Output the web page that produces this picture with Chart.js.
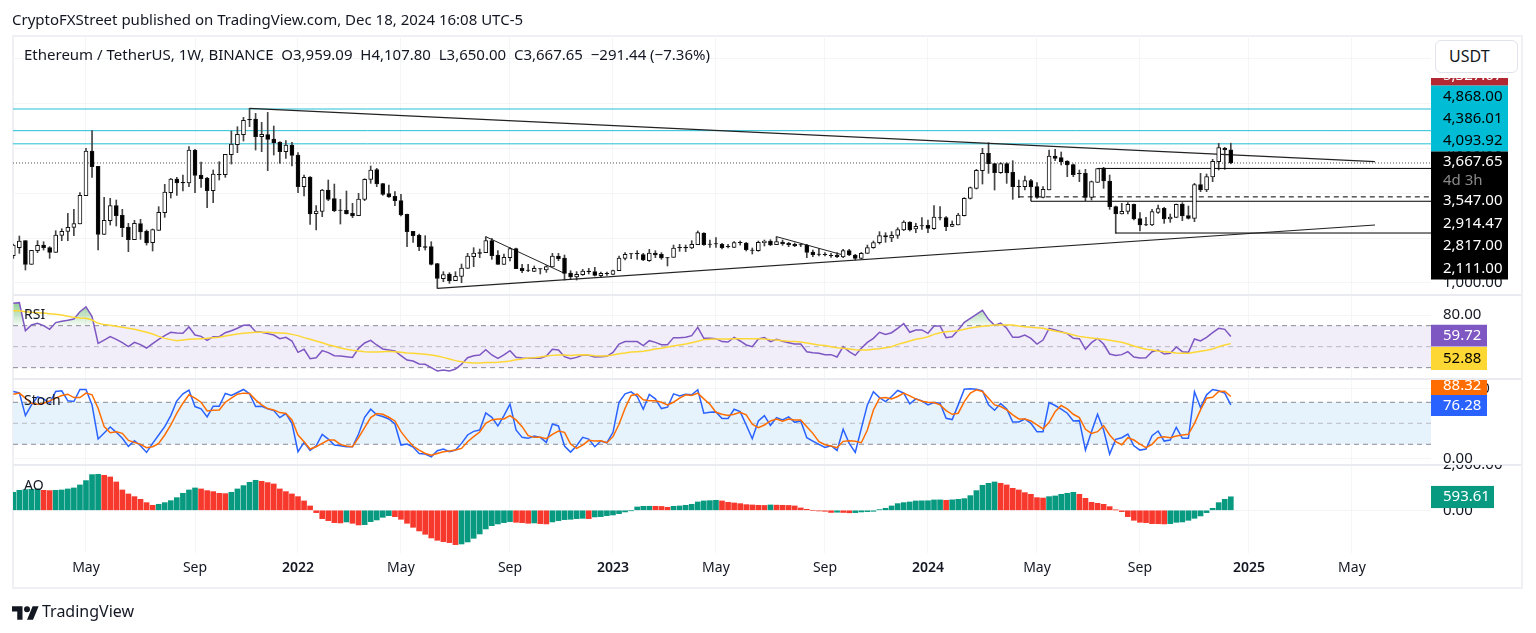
<!DOCTYPE html>
<html>
<head>
<meta charset="utf-8">
<title>ETHUSDT 1W</title>
<script src="https://cdn.jsdelivr.net/npm/chart.js@4/dist/chart.umd.js"></script>
<style>
  html, body { margin: 0; padding: 0; background: #fff; overflow: hidden; }
  body { width: 1536px; height: 633px; position: relative; font-family: "Noto Sans", sans-serif; color: #131722; }
  canvas { position: absolute; left: 0; top: 0; }
  .txt { position: absolute; white-space: pre; font-size: 15px; line-height: 18px; }
  .leg { font-size: 14px; }
  #frame { position: absolute; left: 12px; top: 35px; width: 1507px; height: 550px; border: 2px solid #eef0f4; }
  #cover { position: absolute; left: 1431px; top: 37px; width: 88px; height: 41px; background: #fff; }
  #unit { position: absolute; left: 1435px; top: 40px; width: 81px; height: 31px; border: 1px solid #e0e3eb; border-radius: 6px; background: #fff;
          font-size: 16px; line-height: 31px; text-indent: 13px; }
  #logo { position: absolute; left: 12px; top: 601px; }
</style>
</head>
<body>
<div id="frame"></div>
<canvas id="chart" width="1536" height="633"></canvas>
<div class="txt" style="left:12px;top:10px">CryptoFXStreet published on TradingView.com, Dec 18, 2024 16:08 UTC-5</div>
<div class="txt" style="left:24px;top:45px">Ethereum / TetherUS, 1W, BINANCE  O3,959.09  H4,107.80  L3,650.00  C3,667.65  −291.44 (−7.36%)</div>
<div class="txt leg" style="left:24px;top:305px">RSI</div>
<div class="txt leg" style="left:24px;top:391px">Stoch</div>
<div class="txt leg" style="left:24px;top:476px">AO</div>
<div id="cover"></div>
<div id="unit">USDT</div>
<svg id="logo" width="27" height="21" viewBox="0 0 36 28"><path fill="#131722" d="M14 25H7V14H0V7h14v18zM28 25h-8l7.5-18h8L28 25z"/><circle fill="#131722" cx="20" cy="11" r="4"/></svg>
<div class="txt" style="left:42px;top:601px;font-size:16px;line-height:20px">TradingView</div>

<script>
const opens = [1607,1785,1941,1415,1718,1844,1785,1681,2059,2148,2237,2311,2941,3934,3593,2081,2385,2719,2504,2244,1963,2319,2148,1896,2170,2563,3008,3312,3237,3223,3956,3400,3334,3052,3415,3408,3852,4075,4297,4638,4645,4253,4297,4201,4134,3919,4067,3845,3141,3356,2541,2593,3067,2874,2622,2615,2548,2496,2860,3304,3519,3208,2986,2926,2830,2526,2148,2059,1807,1807,1429,1096,1200,1051,1148,1326,1585,1674,1674,1941,1622,1415,1563,1763,1326,1289,1259,1318,1289,1355,1600,1555,1222,1133,1185,1266,1252,1163,1215,1192,1274,1548,1652,1659,1629,1496,1666,1637,1563,1570,1792,1792,1778,1852,2111,1867,1874,1859,1815,1792,1904,1889,1733,1718,1896,1933,1852,1911,1881,1859,1852,1844,1689,1644,1637,1615,1622,1578,1718,1622,1548,1659,1785,1896,2052,2000,2059,2178,2356,2200,2274,2282,2207,2452,2452,2259,2289,2496,2882,3104,3497,3882,3652,3452,3652,3460,3148,3141,3274,3141,2904,3067,3823,3786,3712,3630,3438,3438,2904,3237,3556,3267,2697,2533,2593,2748,2430,2296,2289,2571,2659,2422,2459,2756,2496,2437,3186,3067,3356,3697,3993,3959];
const highs = [1867,2044,1941,1726,1941,1918,1807,2163,2207,2548,2637,3008,3993,4386,3593,2904,2882,2845,2637,2326,2393,2415,2178,2200,2697,3193,3326,3349,3400,4030,3971,3689,3349,3512,3697,3860,4379,4475,4682,4882,4771,4571,4793,4490,4141,4164,4127,3897,3400,3363,2719,3082,3289,3200,2860,3045,2771,2993,3319,3601,3549,3215,3178,3030,2971,2533,2148,2089,2052,1918,1437,1252,1229,1252,1422,1659,1785,1755,2030,1992,1718,1644,1785,1778,1415,1415,1378,1318,1385,1659,1659,1622,1274,1252,1303,1326,1348,1244,1244,1289,1600,1674,1652,1718,1659,1748,1718,1674,1570,1844,1859,1844,1941,2156,2118,1955,2007,1881,1859,1918,1933,1904,1778,1933,1955,1963,2030,1955,1904,1889,1867,1859,1733,1763,1674,1659,1674,1748,1748,1637,1681,1844,1933,2141,2118,2141,2230,2385,2363,2326,2452,2400,2719,2697,2474,2378,2548,2897,3134,3526,3993,4119,3660,3675,3675,3719,3289,3378,3304,3230,3141,3956,3971,3912,3719,3645,3512,3526,3267,3549,3571,3400,2711,2771,2785,2756,2563,2459,2637,2734,2682,2533,2756,2785,2711,3215,3438,3423,3749,4104,4015,4108];
const lows = [1548,1659,1289,1415,1674,1733,1548,1681,1941,1941,2052,2311,2941,3349,1733,2081,2289,2267,2030,1696,1963,1970,1844,1711,2170,2459,2889,2948,3045,3141,3008,3126,2674,2785,3289,3349,3645,3897,4156,4475,3956,3919,3497,3845,3660,3771,3601,3008,2934,2304,2178,2474,2830,2585,2311,2533,2452,2496,2830,3215,3141,2948,2904,2719,2489,1807,1904,1718,1733,1400,881,1029,992,1051,1007,1326,1363,1563,1674,1526,1415,1415,1489,1318,1229,1252,1252,1200,1237,1355,1496,1066,1088,1066,1170,1200,1155,1126,1170,1185,1274,1511,1540,1526,1496,1481,1563,1526,1378,1570,1704,1696,1763,1852,1837,1792,1792,1755,1778,1785,1844,1711,1644,1704,1822,1829,1852,1837,1807,1807,1807,1563,1585,1600,1600,1570,1563,1563,1607,1511,1540,1659,1770,1867,1904,1918,1992,2163,2156,2118,2193,2118,2193,2400,2163,2252,2289,2489,2867,3089,3200,3438,3067,3438,3215,2860,2897,3067,2822,2882,2889,3067,3719,3623,3363,3363,3252,2830,2845,3237,3104,2637,2104,2533,2533,2400,2156,2274,2274,2548,2326,2348,2452,2385,2422,2363,3030,3030,3252,3512,3526,3650];
const closes = [1844,1933,1415,1726,1837,1785,1681,2067,2148,2237,2319,2948,3934,3586,2081,2393,2719,2496,2230,1963,2326,2133,1889,2185,2571,3023,3312,3223,3223,3956,3393,3319,3052,3423,3408,3860,4090,4304,4616,4623,4253,4304,4193,4112,3919,4067,3838,3141,3349,2533,2600,3067,2860,2608,2615,2533,2489,2867,3304,3512,3200,2971,2911,2830,2511,2141,2052,1807,1792,1415,1103,1185,1044,1148,1333,1600,1666,1659,1941,1607,1415,1570,1763,1318,1274,1281,1326,1311,1363,1600,1540,1215,1133,1192,1266,1252,1170,1215,1207,1274,1555,1637,1644,1652,1511,1666,1622,1555,1555,1778,1785,1778,1859,2118,1852,1859,1867,1785,1807,1896,1896,1741,1726,1904,1933,1844,1918,1874,1852,1822,1844,1681,1629,1637,1629,1607,1585,1718,1622,1548,1659,1785,1896,2052,2022,2059,2185,2356,2178,2259,2267,2215,2467,2445,2252,2304,2511,2882,3119,3504,3882,3652,3452,3652,3445,3141,3141,3274,3134,2904,3082,3823,3771,3689,3623,3408,3430,2904,3252,3541,3267,2697,2533,2593,2748,2422,2289,2289,2585,2652,2422,2467,2748,2489,2437,3186,3067,3363,3704,4008,3956,3668];

const rsiValues = [91.3,91.9,65.2,70.6,72.2,70.0,66.5,72.9,74.1,75.1,76.3,83.3,87.8,78.6,53.2,56.3,59.5,57.0,53.8,50.0,54.1,51.9,48.7,52.9,57.0,60.5,63.7,63.0,62.7,68.7,61.1,59.8,56.0,59.5,59.5,63.3,65.2,67.5,70.3,70.6,64.3,63.7,62.4,61.1,57.6,58.9,55.4,44.6,47.5,38.6,39.5,46.2,44.3,41.4,41.1,40.5,39.8,48.4,53.5,56.0,51.6,47.8,46.8,45.9,41.4,37.3,36.3,33.5,33.2,30.0,26.8,27.8,26.8,28.7,33.2,39.5,41.4,42.1,47.1,42.1,38.9,42.1,46.2,39.8,39.2,38.9,38.9,38.9,41.1,47.5,46.8,40.5,38.6,39.8,42.1,41.7,40.2,40.5,40.8,44.6,52.5,54.8,54.8,54.8,51.0,55.7,54.1,51.9,51.9,58.6,58.6,58.9,60.5,68.4,57.9,57.9,57.6,54.8,54.4,58.9,55.4,51.6,50.0,57.3,58.6,54.8,57.0,55.1,53.8,52.5,52.5,45.2,44.3,43.7,42.4,42.4,40.2,50.0,45.2,41.7,48.4,54.1,57.9,63.7,61.7,63.3,67.5,71.9,63.7,65.9,65.9,62.7,69.7,69.7,58.6,59.5,65.9,73.2,77.0,80.8,84.6,76.0,70.3,72.5,67.5,58.9,58.9,61.1,57.9,52.5,56.3,67.5,65.9,64.3,62.4,57.9,57.6,47.5,53.8,57.9,52.5,43.0,41.7,42.4,45.2,40.2,39.2,39.5,45.2,46.8,43.0,43.7,49.7,45.2,44.6,57.3,55.4,58.9,63.3,67.5,66.5,59.72];
const rsiMa = [84.3,84.3,83.3,82.7,82.4,82.1,81.4,80.8,80.2,78.9,77.9,77.3,77.0,75.4,72.2,71.0,70.3,69.4,68.4,67.5,66.5,65.2,63.7,62.1,59.8,57.9,56.7,55.7,56.3,57.0,57.3,57.6,57.9,58.6,58.9,60.2,61.1,62.1,62.7,63.3,63.7,63.7,63.7,63.3,63.0,62.7,61.7,60.5,58.6,57.0,55.4,53.8,51.9,50.3,48.7,47.5,46.5,45.9,45.2,44.9,44.9,45.2,45.6,45.2,44.6,44.0,43.7,43.3,42.7,42.1,41.1,39.8,38.3,36.7,35.7,34.8,34.4,34.4,34.8,34.8,35.1,35.7,36.3,37.6,38.3,39.2,39.5,40.2,41.1,41.7,42.1,42.1,41.7,42.1,42.4,42.1,41.4,41.1,41.1,42.1,43.3,44.0,44.9,45.2,45.6,46.5,47.8,48.4,49.7,50.6,51.6,52.5,53.8,55.1,56.7,57.0,57.3,57.3,57.3,57.6,57.6,57.6,57.6,57.6,57.3,56.7,56.3,55.7,55.1,54.8,54.4,53.5,52.5,51.6,51.0,50.0,49.0,48.4,47.8,47.1,46.8,46.8,47.5,48.1,49.0,50.0,52.2,53.8,55.4,57.0,57.9,59.5,61.7,63.3,64.3,64.6,65.2,66.5,67.8,68.7,69.4,70.0,70.6,70.6,70.6,70.6,69.7,69.0,68.4,68.1,67.5,66.2,64.9,63.7,62.7,61.1,59.8,58.9,58.3,57.6,57.0,56.0,55.1,54.1,52.5,50.6,49.0,47.5,46.8,45.9,45.2,44.6,44.0,43.7,43.7,44.6,45.6,46.5,47.8,50.0,51.6,52.88];

const stochK = [95.5,93.5,61.0,76.3,87.8,84.9,78.7,95.5,96.4,82.1,81.1,98.3,98.3,76.3,27.5,36.1,44.7,37.1,28.5,17.0,25.1,17.9,8.4,21.3,33.3,45.2,61.0,82.1,92.1,97.4,73.9,70.6,59.1,74.4,74.4,92.6,89.7,94.0,98.3,92.1,73.9,74.4,70.6,68.2,58.1,63.9,50.0,9.3,22.7,11.2,17.9,34.2,27.5,18.9,17.9,16.5,16.5,34.7,58.6,70.1,62.0,59.6,56.2,49.0,18.9,20.3,16.0,6.9,6.0,2.2,10.8,13.2,9.3,11.7,21.3,33.3,38.5,40.4,64.8,58.6,46.2,61.0,77.3,40.4,29.9,28.5,31.8,29.9,22.7,49.0,46.2,17.5,8.8,17.9,29.9,27.5,16.5,24.6,22.2,37.1,80.1,92.1,95.0,88.3,70.1,91.2,84.9,71.1,73.0,92.1,89.2,91.6,90.7,97.9,64.4,65.8,66.3,56.7,56.7,70.1,66.7,47.6,28.0,53.3,61.0,47.1,58.1,54.8,59.1,51.4,53.3,29.4,24.6,19.9,15.5,17.9,11.2,41.4,21.3,8.4,42.8,76.3,95.0,86.8,81.1,88.3,96.9,93.1,77.8,84.9,82.1,76.3,79.7,78.7,57.2,55.3,76.3,98.8,99.3,98.8,96.4,76.3,68.7,78.2,70.6,51.9,51.9,56.2,50.0,38.0,38.0,79.7,75.4,70.1,64.4,53.3,53.8,11.7,38.0,62.9,40.4,6.0,27.0,29.4,34.7,17.9,11.7,13.2,32.3,39.0,24.6,26.1,44.3,28.5,28.5,95.0,72.5,90.7,98.3,96.4,93.1,76.28];
const stochD = [91.6,93.1,85.9,78.7,77.3,78.7,82.1,85.9,89.7,91.6,86.8,86.8,93.1,90.7,71.5,45.2,36.6,38.0,35.6,25.6,22.7,19.9,15.1,16.5,21.3,33.3,47.6,64.4,78.7,90.7,85.9,80.1,67.7,68.7,69.1,80.1,85.9,91.6,93.1,92.6,83.5,76.3,71.1,69.1,65.3,63.9,54.8,33.3,23.7,13.2,16.5,21.3,26.1,26.1,19.9,17.5,16.5,29.4,43.8,58.1,63.9,62.9,58.6,53.3,38.0,27.0,17.5,11.7,6.9,4.5,6.9,9.3,10.3,11.7,14.1,23.7,30.9,37.6,50.0,54.8,56.2,56.2,61.0,54.8,45.2,32.3,29.9,29.9,28.0,34.2,39.0,37.1,20.3,14.1,18.9,25.6,24.6,25.1,22.2,30.9,48.6,71.5,89.7,91.6,83.5,82.1,82.1,80.1,76.3,80.1,85.9,90.7,89.7,93.1,84.9,77.3,65.8,62.9,61.0,62.9,65.8,62.0,48.6,43.8,47.6,53.3,56.2,52.9,56.2,54.8,54.8,45.2,35.6,23.7,19.4,17.5,15.1,24.2,25.1,24.2,22.2,40.4,69.1,85.9,86.8,84.9,88.3,93.1,89.2,84.9,81.6,80.1,79.7,76.3,68.2,62.9,64.4,81.1,93.1,97.9,95.5,85.9,76.3,73.9,69.1,62.0,56.2,56.2,53.3,47.6,41.9,51.4,66.7,75.4,70.6,62.9,58.1,41.4,35.6,38.0,46.7,33.3,23.7,19.4,29.4,26.1,20.3,15.1,19.9,29.4,30.9,29.4,31.8,33.3,34.2,50.0,69.1,85.9,87.3,95.5,95.9,88.32];

const aoValues = [792,880,910,924,939,880,866,880,895,939,983,1115,1306,1570,1584,1540,1467,1247,895,719,601,484,337,220,264,337,425,557,748,895,983,939,866,822,748,733,792,939,1086,1232,1320,1276,1218,1159,939,822,719,601,411,191,-103,-367,-455,-543,-557,-513,-572,-645,-631,-499,-425,-308,-235,-279,-396,-572,-748,-909,-1056,-1218,-1320,-1379,-1423,-1511,-1482,-1394,-1232,-1042,-822,-675,-601,-543,-499,-528,-543,-572,-557,-587,-601,-513,-455,-411,-396,-367,-352,-367,-293,-279,-235,-205,-147,-73,-15,147,176,178,176,169,132,176,191,220,264,367,411,425,440,411,352,323,293,249,235,220,213,235,227,220,213,191,103,44,0,-29,-44,-95,-85,-95,-110,-103,-73,-59,-44,30,88,191,293,337,367,411,416,420,455,458,440,460,484,513,645,866,1100,1188,1247,1188,1115,968,895,777,704,557,540,601,631,704,748,792,704,528,352,308,264,161,15,-59,-279,-440,-528,-543,-587,-590,-601,-587,-528,-513,-440,-352,-249,-103,88,337,484,594];

const timeTicks = [12,30,47,64,82,99,116,134,151,169,186,204,221];
const timeLabels = ['May','Sep','2022','May','Sep','2023','May','Sep','2024','May','Sep','2025','May'];

const cyanLevels = [4868, 4386.01, 4093.92];
const lastClose = 3667.65;
const lineTop = [[39,4882],[224.8,3696]];
const lineBottom = [[70,881],[224.8,2289]];
const lineSwing1 = [[78,2030],[91,1214]];
const lineSwing2 = [[126,2030],[137,1622]];
const hLevels = [[179,3547],[168,2817],[182,2111]];
const dashLevel = [166,2914.47];

const xMin = -0.05, xMax = 234.05, lastX = xMax;
const pts = arr => arr.map((y, x) => ({x, y}));
const seg = a => a.map(p => ({x: p[0], y: p[1]}));
const fmt = v => v.toLocaleString('en-US', {minimumFractionDigits: 2, maximumFractionDigits: 2});

function lineDs(data, axis, color, width, dash, order) {
  return {type: 'line', data, yAxisID: axis, borderColor: color, borderWidth: width, borderDash: dash || [],
          pointRadius: 0, tension: 0, fill: false, order: order == null ? 1 : order};
}

const canvas = document.getElementById('chart');
const rsiGlow = canvas.getContext('2d').createLinearGradient(0, 305, 0, 326);
rsiGlow.addColorStop(0, 'rgba(76,175,80,0.55)');
rsiGlow.addColorStop(1, 'rgba(76,175,80,0.05)');

const datasets = [
  // candle bodies on top, wicks behind them
  {type: 'bar', yAxisID: 'price', grouped: false, order: 0, barThickness: 4, borderWidth: 1, borderSkipped: false, borderColor: '#111',
   backgroundColor: opens.map((o, i) => closes[i] >= o ? '#fff' : '#000'),
   data: opens.map((o, i) => ({x: i, y: [o, closes[i]]}))},
  {type: 'bar', yAxisID: 'price', grouped: false, order: 2, barThickness: 1, borderWidth: 0, backgroundColor: '#444',
   data: highs.map((h, i) => ({x: i, y: [lows[i], h]}))},
  ...cyanLevels.map(v => lineDs([{x: xMin, y: v}, {x: lastX, y: v}], 'price', '#22bfd6', 1, null, 3)),
  lineDs([{x: xMin, y: lastClose}, {x: lastX, y: lastClose}], 'price', '#555', 1, [1, 2], 3),
  lineDs(seg(lineTop), 'price', '#222', 1.2, null, 1),
  lineDs(seg(lineBottom), 'price', '#222', 1.2, null, 1),
  lineDs(seg(lineSwing1), 'price', '#222', 1, null, 1),
  lineDs(seg(lineSwing2), 'price', '#222', 1, null, 1),
  ...hLevels.map(l => lineDs([{x: l[0], y: l[1]}, {x: lastX, y: l[1]}], 'price', '#000', 1, null, 1)),
  lineDs([{x: dashLevel[0], y: dashLevel[1]}, {x: lastX, y: dashLevel[1]}], 'price', '#000', 1, [5, 4], 1),

  Object.assign(lineDs(pts(rsiValues), 'rsi', '#7e57c2', 1.5), {fill: {target: {value: 70}, above: rsiGlow, below: 'rgba(0,0,0,0)'}}),
  lineDs(pts(rsiMa), 'rsi', '#fdd835', 1.5, null, 0),
  lineDs(pts(stochK), 'stoch', '#2962ff', 1.5),
  lineDs(pts(stochD), 'stoch', '#ff6d00', 1.5, null, 0),

  {type: 'bar', yAxisID: 'ao', grouped: false, barThickness: 5, borderWidth: 0, order: 1,
   backgroundColor: aoValues.map((v, i) => (i === 0 || v >= aoValues[i - 1]) ? '#089981' : '#f7392d'),
   data: pts(aoValues)}
];

const paneGrid = {color: '#f4f5f7', drawTicks: false};
const sideTicks = {padding: 12, color: '#131722', font: {family: 'Noto Sans', size: 15}, callback: v => fmt(v)};
function fixedTicks(list) { return s => { s.ticks = list.map(value => ({value})); }; }
const fitSide = s => { s.width = 90; };

// price tags of the right-hand axis, top to bottom
const tagRows = [
  ['5,327.67', '#b22833', '#fff', 66, 85.6],
  ['4,868.00', '#00bcd4', '#000', 85.6, 108],
  ['4,386.01', '#00bcd4', '#000', 108, 130],
  ['4,093.92', '#00bcd4', '#000', 130, 151.5],
  ['3,667.65', '#000', '#fff', 151.5, 172],
  ['4d 3h', '#000', '#8a8a8a', 172, 190],
  ['3,547.00', '#000', '#fff', 190, 212],
  ['2,914.47', '#000', '#fff', 212, 235],
  ['2,817.00', '#000', '#fff', 235, 257],
  ['2,111.00', '#000', '#fff', 257, 279.5],
];
const paneTags = [
  ['59.72', '#7e57c2', '#fff', 324.5, 346.7, 56],
  ['52.88', '#fdd835', '#000', 346.7, 370, 56],
  ['88.32', '#ff6d00', '#fff', 377, 395, 56, 380],
  ['76.28', '#2962ff', '#fff', 395, 416, 56],
  ['593.61', '#089981', '#fff', 485.7, 508.3, 63],
];

const panelsPlugin = {
  id: 'panels',
  beforeDatasetsDraw(chart) {
    const {ctx, chartArea: a, scales} = chart;
    const band = (s, hi, mid, lo, fill) => {
      const yh = s.getPixelForValue(hi), yl = s.getPixelForValue(lo), ym = s.getPixelForValue(mid);
      ctx.save();
      ctx.fillStyle = fill;
      ctx.fillRect(a.left, yh, a.right - a.left, yl - yh);
      ctx.lineWidth = 1;
      ctx.setLineDash([5, 4]);
      [[yh, '#8a8d96'], [ym, '#b9bbc2'], [yl, '#8a8d96']].forEach(([y, c]) => {
        ctx.strokeStyle = c;
        ctx.beginPath(); ctx.moveTo(a.left, y); ctx.lineTo(a.right, y); ctx.stroke();
      });
      ctx.restore();
    };
    band(scales.rsi, 70, 50, 30, '#f1edf9');
    band(scales.stoch, 80, 50, 20, '#e6f3fd');
  },
  afterDraw(chart) {
    const {ctx, chartArea: a, scales} = chart;
    ctx.save();
    ctx.fillStyle = '#e9ebf0';
    [scales.rsi.top, scales.stoch.top, scales.ao.top].forEach(y => ctx.fillRect(a.left, y - 1, 1508, 2));
    ctx.textBaseline = 'middle';
    ctx.font = '15px "Noto Sans"';
    tagRows.forEach(([t, bg, fg, y0, y1]) => {
      ctx.fillStyle = bg;
      ctx.fillRect(a.right, y0, 77, y1 - y0);
      ctx.fillStyle = fg;
      ctx.fillText(t, a.right + 12, (y0 + y1) / 2);
    });
    paneTags.forEach(([t, bg, fg, y0, y1, w, clipTop]) => {
      ctx.save();
      ctx.beginPath();
      ctx.rect(a.right, clipTop || y0, w, y1 - (clipTop || y0));
      ctx.clip();
      ctx.fillStyle = bg;
      ctx.fillRect(a.right, y0, w, y1 - y0);
      ctx.fillStyle = fg;
      ctx.fillText(t, a.right + 12, (y0 + y1) / 2);
      ctx.restore();
    });
    // top tick of the AO pane is cut by the pane edge
    ctx.beginPath();
    ctx.rect(a.right, scales.ao.top, 90, 20);
    ctx.clip();
    ctx.fillStyle = '#131722';
    ctx.fillText(fmt(2000), a.right + 12, scales.ao.getPixelForValue(2000));
    ctx.restore();
  }
};

new Chart(canvas, {
  type: 'bar',
  data: {datasets},
  plugins: [panelsPlugin],
  options: {
    responsive: false,
    animation: false,
    devicePixelRatio: 1,
    layout: {autoPadding: false, padding: {left: 13, top: 36, right: 15, bottom: 46}},
    plugins: {legend: {display: false}, tooltip: {enabled: false}, title: {display: false}},
    scales: {
      x: {
        type: 'linear', min: xMin, max: xMax, offset: false,
        grid: {color: '#f4f5f7', offset: false, drawTicks: false},
        border: {display: false},
        afterBuildTicks: fixedTicks(timeTicks),
        afterFit: s => { s.height = 34; },
        ticks: {
          autoSkip: false, maxRotation: 0, padding: 7, color: '#131722',
          font: ctx => ({family: 'Noto Sans', size: 14, weight: /^\d/.test(timeLabels[ctx.index] || '') ? '600' : '400'}),
          callback: (v, i) => timeLabels[i]
        }
      },
      price: {
        type: 'linear', position: 'right', stack: 'panes', stackWeight: 259, weight: 1, min: 733, max: 6491,
        grid: paneGrid, border: {display: false}, afterFit: fitSide,
        afterBuildTicks: fixedTicks([1000, 2000, 3000, 4000, 5000, 6000]), ticks: sideTicks
      },
      rsi: {
        type: 'linear', position: 'right', stack: 'panes', stackWeight: 84, weight: 2, min: 19.2, max: 99.2,
        grid: paneGrid, border: {display: false}, afterFit: fitSide,
        afterBuildTicks: fixedTicks([80]), ticks: sideTicks
      },
      stoch: {
        type: 'linear', position: 'right', stack: 'panes', stackWeight: 86, weight: 3, min: -9.6, max: 113.3,
        grid: paneGrid, border: {display: false}, afterFit: fitSide,
        afterBuildTicks: fixedTicks([0, 100]), ticks: sideTicks
      },
      ao: {
        type: 'linear', position: 'right', stack: 'panes', stackWeight: 88, weight: 4, min: -1879, max: 1993,
        grid: paneGrid, border: {display: false}, afterFit: fitSide,
        afterBuildTicks: fixedTicks([0]), ticks: sideTicks
      }
    }
  }
});
</script>
</body>
</html>
